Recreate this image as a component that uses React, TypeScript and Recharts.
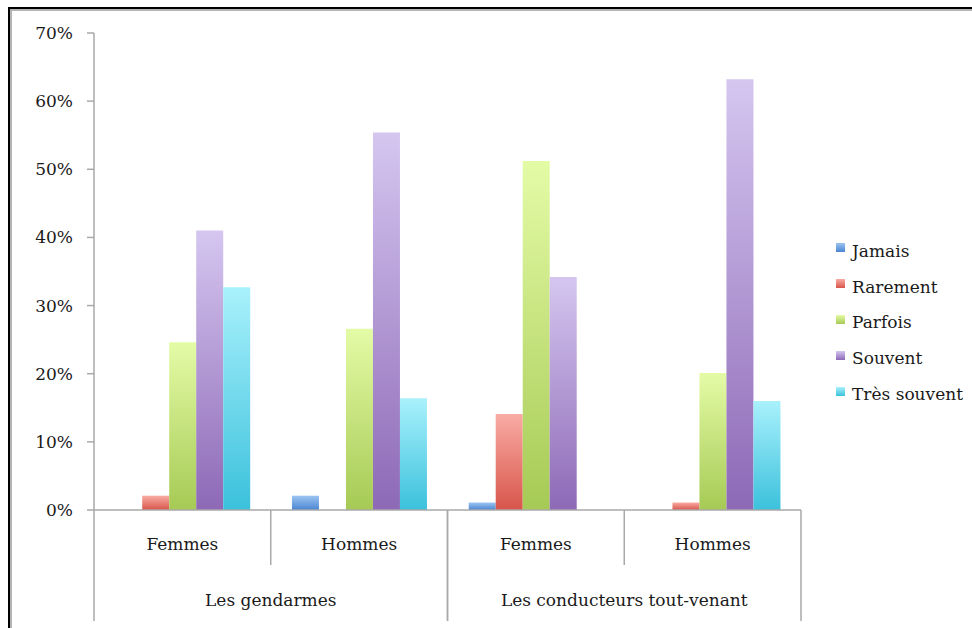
import { Bar, BarChart, Legend, XAxis, YAxis } from "recharts";

// catégories (deux niveaux)
const groupes = ["Les gendarmes", "Les conducteurs tout-venant"];
const sexes = ["Femmes", "Hommes"];

// valeurs en %, dans l'ordre : gendarmes F, gendarmes H, conducteurs F, conducteurs H
const jamais = [0, 2.1, 1.1, 0];
const rarement = [2.1, 0, 14.1, 1.1];
const parfois = [24.6, 26.6, 51.2, 20.1];
const souvent = [41, 55.4, 34.2, 63.2];
const tresSouvent = [32.7, 16.4, 0, 16];

const yTicks = [0, 10, 20, 30, 40, 50, 60, 70];

const series = [
  { key: "jamais", name: "Jamais", values: jamais, top: "#9cc4f2", bottom: "#4a85d2" },
  { key: "rarement", name: "Rarement", values: rarement, top: "#f9aca4", bottom: "#d8554a" },
  { key: "parfois", name: "Parfois", values: parfois, top: "#e4fba6", bottom: "#a6ca55" },
  { key: "souvent", name: "Souvent", values: souvent, top: "#d5c6f0", bottom: "#8d69b6" },
  { key: "tresSouvent", name: "Très souvent", values: tresSouvent, top: "#a9f1fc", bottom: "#3bc1dc" },
];

const data = groupes.flatMap((g, gi) =>
  sexes.map((s, si) => {
    const i = gi * sexes.length + si;
    const row: Record<string, string | number> = { groupe: g, sexe: s };
    series.forEach((sr) => {
      row[sr.key] = sr.values[i];
    });
    return row;
  })
);

const FONT = "'DejaVu Serif', serif";
const AXIS = "#a9a9a9";

function CategoryTick(props: any) {
  const { x, y, payload, index } = props;
  const half = payload.offset ?? 0;
  const pos = index % sexes.length;
  const isFirst = pos === 0;
  const isLast = pos === sexes.length - 1;
  const row = data[index];
  return (
    <g>
      <text
        x={x}
        y={y + 34}
        textAnchor="middle"
        dominantBaseline="central"
        fontFamily={FONT}
        fontSize={17}
        fill="#1a1a1a"
      >
        {payload.value}
      </text>
      {isFirst && (
        <>
          <line x1={x - half} x2={x - half} y1={y} y2={y + 111} stroke={AXIS} strokeWidth={1.5} />
          <text
            x={x - half + half * sexes.length}
            y={y + 90}
            textAnchor="middle"
            dominantBaseline="central"
            fontFamily={FONT}
            fontSize={17}
            fill="#1a1a1a"
          >
            {row.groupe}
          </text>
        </>
      )}
      <line
        x1={x + half}
        x2={x + half}
        y1={y}
        y2={isLast ? y + 111 : y + 55}
        stroke={AXIS}
        strokeWidth={1.5}
      />
    </g>
  );
}

function LegendBox() {
  return (
    <div style={{ width: 135, fontFamily: FONT, fontSize: 17, color: "#1a1a1a" }}>
      {series.map((s) => (
        <div key={s.key} style={{ height: 35.8, display: "flex", alignItems: "center" }}>
          <span
            style={{
              width: 9,
              height: 9,
              marginTop: -6,
              marginRight: 7,
              background: `linear-gradient(${s.top}, ${s.bottom})`,
            }}
          />
          <span>{s.name}</span>
        </div>
      ))}
    </div>
  );
}

export default function App() {
  return (
    <div style={{ position: "absolute", left: 0, top: 0, width: 972, height: 628, background: "#fff" }}>
      <div
        style={{
          position: "absolute",
          left: 8,
          top: 7,
          width: 964,
          height: 621,
          borderTop: "2px solid #000",
          borderLeft: "2px solid #000",
          boxShadow: "inset 2px 2px 0 #b4b4b4",
          boxSizing: "border-box",
        }}
      />
      <div style={{ position: "absolute", left: 0, top: 0 }}>
        <BarChart
          width={972}
          height={628}
          data={data}
          margin={{ top: 33, right: 36, bottom: 0, left: 0 }}
          barGap={0}
          barCategoryGap="12%"
        >
          <defs>
            {series.map((s) => (
              <linearGradient key={s.key} id={`g-${s.key}`} x1="0" y1="0" x2="0" y2="1">
                <stop offset="0%" stopColor={s.top} />
                <stop offset="100%" stopColor={s.bottom} />
              </linearGradient>
            ))}
          </defs>
          <YAxis
            width={94}
            domain={[0, 70]}
            ticks={yTicks}
            interval={0}
            tickFormatter={(v: number) => `${v}%`}
            axisLine={{ stroke: AXIS, strokeWidth: 1.5 }}
            tickLine={{ stroke: AXIS, strokeWidth: 1.5 }}
            tickSize={7}
            tickMargin={14}
            tick={{ fontFamily: FONT, fontSize: 17, fill: "#1a1a1a" }}
          />
          <XAxis
            dataKey="sexe"
            height={118}
            interval={0}
            tickLine={false}
            tickSize={0}
            tickMargin={0}
            axisLine={{ stroke: AXIS, strokeWidth: 1.5 }}
            tick={<CategoryTick />}
          />
          <Legend
            layout="vertical"
            align="right"
            verticalAlign="middle"
            content={<LegendBox />}
            wrapperStyle={{ left: 836, top: 233, width: 135 }}
          />
          {series.map((s) => (
            <Bar
              key={s.key}
              dataKey={s.key}
              name={s.name}
              fill={`url(#g-${s.key})`}
              isAnimationActive={false}
            />
          ))}
        </BarChart>
      </div>
    </div>
  );
}
